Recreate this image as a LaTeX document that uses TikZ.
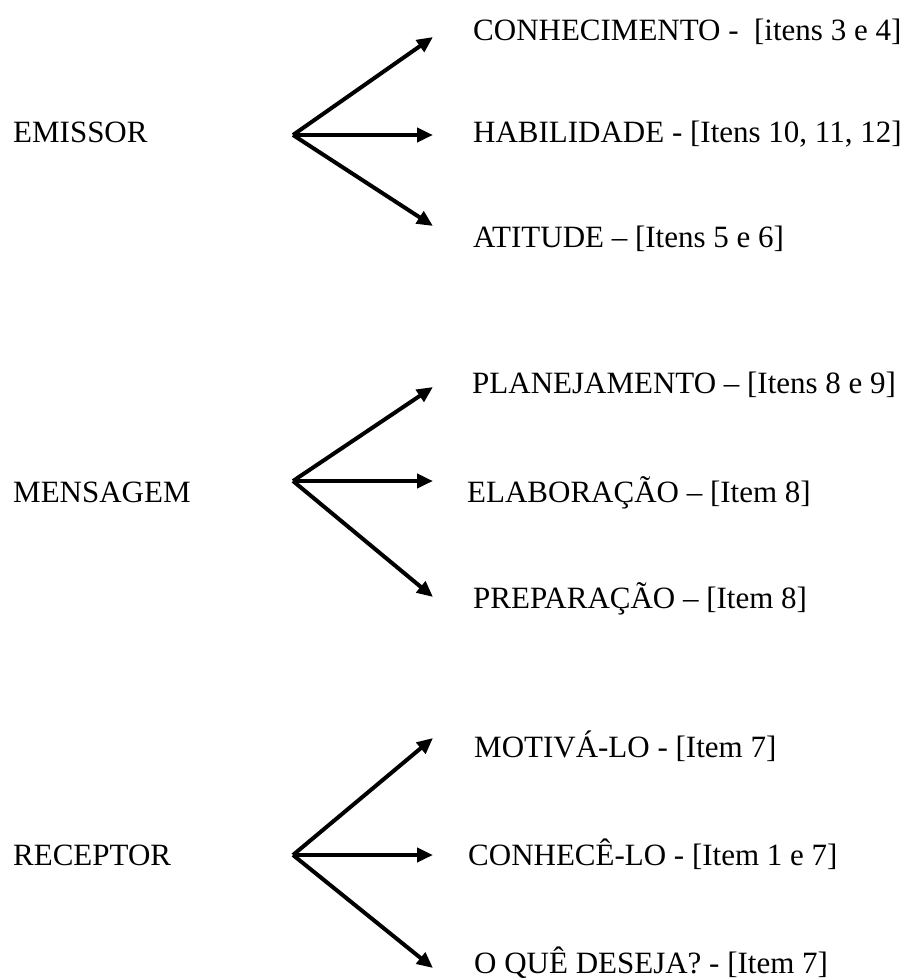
\documentclass[tikz,border=0pt]{standalone}
\usepackage{fontspec}
\setmainfont{Liberation Serif}
\usetikzlibrary{arrows.meta}

\begin{document}
\begin{tikzpicture}[x=1pt,y=-1pt,
    texto/.style={anchor=base west,inner sep=0pt,font=\fontsize{31}{37}\selectfont},
    seta/.style={line width=4pt,-{Triangle[length=16pt,width=14pt]}}]
    \useasboundingbox (0,0) rectangle (908,980);
    % emissor
    \node[texto] (emissor) at (13,142) {EMISSOR};
    \node[texto] (conhecimento) at (473,40) {CONHECIMENTO -\ \ [itens 3 e 4]};
    \node[texto] (habilidade) at (473,142) {HABILIDADE - [Itens 10, 11, 12]};
    \node[texto] (atitude) at (473,247) {ATITUDE – [Itens 5 e 6]};
    \coordinate (emissor-o) at (293,135);
    \coordinate (conhecimento-p) at (433,37);
    \coordinate (habilidade-p) at (433,135);
    \coordinate (atitude-p) at (433,226);
    % mensagem
    \node[texto] (mensagem) at (13,502) {MENSAGEM};
    \node[texto] (planejamento) at (472,393) {PLANEJAMENTO – [Itens 8 e 9]};
    \node[texto] (elaboracao) at (467,502) {ELABORAÇÃO – [Item 8]};
    \node[texto] (preparacao) at (473,608) {PREPARAÇÃO – [Item 8]};
    \coordinate (mensagem-o) at (293,481);
    \coordinate (planejamento-p) at (433,387);
    \coordinate (elaboracao-p) at (433,481);
    \coordinate (preparacao-p) at (433,597);
    % receptor
    \node[texto] (receptor) at (13,865) {RECEPTOR};
    \node[texto] (motivalo) at (474,757) {MOTIVÁ-LO - [Item 7]};
    \node[texto] (conhecelo) at (468,865) {CONHECÊ-LO - [Item 1 e 7]};
    \node[texto] (deseja) at (474,973) {O QUÊ DESEJA? - [Item 7]};
    \coordinate (receptor-o) at (293,855);
    \coordinate (motivalo-p) at (433,738);
    \coordinate (conhecelo-p) at (433,855);
    \coordinate (deseja-p) at (433,968);
    \foreach \o/\a/\b/\c in {emissor/conhecimento/habilidade/atitude,
        mensagem/planejamento/elaboracao/preparacao,
        receptor/motivalo/conhecelo/deseja}
    {
        \draw[seta] (\o-o) -- (\a-p);
        \draw[seta] (\o-o) -- (\b-p);
        \draw[seta] (\o-o) -- (\c-p);
    }
\end{tikzpicture}
\end{document}
